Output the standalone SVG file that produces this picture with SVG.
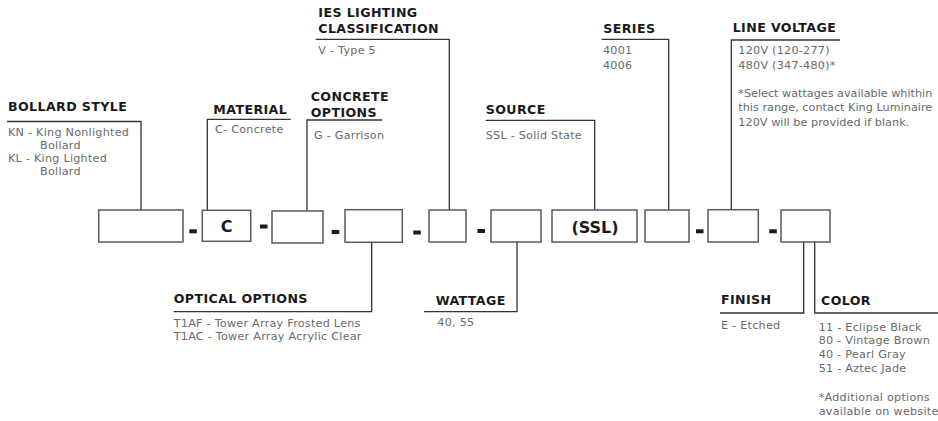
<svg xmlns="http://www.w3.org/2000/svg" width="938" height="421" viewBox="0 0 938 421">
<style>
.t{font-family:"DejaVu Sans","Liberation Sans",sans-serif;font-weight:bold;font-size:12.6px;letter-spacing:0.4px;fill:#1a1a1a}
.b{font-family:"DejaVu Sans","Liberation Sans",sans-serif;font-size:11.2px;letter-spacing:0.25px;fill:#6a6a6a}
.n{letter-spacing:0}
.bx{fill:#fff;stroke:#5a5a5a;stroke-width:1.5}
.bt{font-family:"DejaVu Sans","Liberation Sans",sans-serif;font-weight:bold;font-size:16px;fill:#1a1a1a;text-anchor:middle}
.c{fill:none;stroke:#333;stroke-width:1.3}
.d{fill:#1a1a1a}
</style>
<rect width="938" height="421" fill="#fff"/>
<g id="connectors">
<path class="c" d="M141,210 V121.5 H7"/>
<path class="c" d="M207.3,210.3 V119.3 H290.7"/>
<path class="c" d="M307,211 V120 H382.3"/>
<path class="c" d="M449.3,210 V39.3 H315.7"/>
<path class="c" d="M594.7,210 V120.3 H485.7"/>
<path class="c" d="M668.7,210 V39.3 H601.7"/>
<path class="c" d="M731.3,210 V40 H840"/>
<path class="c" d="M371.7,242 V311.7 H173.7"/>
<path class="c" d="M517,242 V311.7 H424"/>
<path class="c" d="M803.7,242 V313 H720"/>
<path class="c" d="M814.7,242 V313 H938"/>
</g>
<g id="separators">
<rect class="d" x="189.3" y="229.3" width="7.5" height="4"/>
<rect class="d" x="260" y="224.5" width="7.5" height="4"/>
<rect class="d" x="331.7" y="230" width="7.5" height="4"/>
<rect class="d" x="413.3" y="230.5" width="7.5" height="4"/>
<rect class="d" x="477.5" y="229" width="7.5" height="4"/>
<rect class="d" x="696" y="229.3" width="7.5" height="4"/>
<rect class="d" x="769.3" y="229.3" width="7.5" height="4"/>
</g>
<g id="bollard-style">
<rect class="bx" x="98.7" y="210" width="84.3" height="32"/>
<text class="t" x="8" y="111">BOLLARD STYLE</text>
<text class="b" x="8" y="135.5">KN - King Nonlighted</text>
<text class="b" x="40" y="148.5">Bollard</text>
<text class="b" x="8" y="162">KL - King Lighted</text>
<text class="b" x="40" y="175">Bollard</text>
</g>
<g id="material">
<rect class="bx" x="202.3" y="210.3" width="48.4" height="31"/>
<text class="bt" x="226.5" y="231.5">C</text>
<text class="t" x="213.3" y="114">MATERIAL</text>
<text class="b" x="215" y="133.3">C- Concrete</text>
</g>
<g id="concrete-options">
<rect class="bx" x="272" y="211" width="51" height="32"/>
<text class="t" x="310.7" y="100.5">CONCRETE</text>
<text class="t" x="310.7" y="116.5">OPTIONS</text>
<text class="b" x="314" y="139.3">G - Garrison</text>
</g>
<g id="optical-options">
<rect class="bx" x="345" y="209.7" width="57.3" height="32.6"/>
<text class="t" x="173.7" y="302.7">OPTICAL OPTIONS</text>
<text class="b" x="173.7" y="326.7">T1AF - Tower Array Frosted Lens</text>
<text class="b" x="173.7" y="340.2">T1AC - Tower Array Acrylic Clear</text>
</g>
<g id="ies-lighting-classification">
<rect class="bx" x="429" y="210" width="37" height="32"/>
<text class="t" x="318.3" y="17.3">IES LIGHTING</text>
<text class="t" x="318.3" y="33.3">CLASSIFICATION</text>
<text class="b" x="318.3" y="54.3">V - Type 5</text>
</g>
<g id="wattage">
<rect class="bx" x="491" y="210" width="50" height="32"/>
<text class="t" x="435.7" y="305">WATTAGE</text>
<text class="b" x="437.3" y="326">40, 55</text>
</g>
<g id="source">
<rect class="bx" x="552" y="210" width="85" height="32"/>
<text class="bt" x="595" y="233">(SSL)</text>
<text class="t" x="485.7" y="114">SOURCE</text>
<text class="b" x="485.7" y="138.7">SSL - Solid State</text>
</g>
<g id="series">
<rect class="bx" x="645" y="210" width="44" height="32"/>
<text class="t" x="603.3" y="33.3">SERIES</text>
<text class="b" x="603" y="54">4001</text>
<text class="b" x="603" y="69">4006</text>
</g>
<g id="line-voltage">
<rect class="bx" x="708" y="209.7" width="50.3" height="32.3"/>
<text class="t" x="732.7" y="31.7">LINE VOLTAGE</text>
<text class="b" x="738.3" y="54">120V (120-277)</text>
<text class="b" x="738.3" y="69.3">480V (347-480)*</text>
<text class="b n" x="738.3" y="96.7" textLength="194" lengthAdjust="spacingAndGlyphs">*Select wattages available whithin</text>
<text class="b n" x="738.3" y="111" textLength="194" lengthAdjust="spacingAndGlyphs">this range, contact King Luminaire</text>
<text class="b n" x="738.3" y="125.5" textLength="171" lengthAdjust="spacingAndGlyphs">120V will be provided if blank.</text>
</g>
<g id="finish-color-box">
<rect class="bx" x="781" y="210" width="49" height="32"/>
</g>
<g id="finish">
<text class="t" x="721" y="304.3">FINISH</text>
<text class="b" x="721" y="329">E - Etched</text>
</g>
<g id="color">
<text class="t" x="821" y="305">COLOR</text>
<text class="b" x="818.7" y="330.7">11 - Eclipse Black</text>
<text class="b" x="818.7" y="344.3">80 - Vintage Brown</text>
<text class="b" x="818.7" y="358">40 - Pearl Gray</text>
<text class="b" x="818.7" y="371.7">51 - Aztec Jade</text>
<text class="b" x="818.7" y="400.7">*Additional options</text>
<text class="b" x="818.7" y="414.7">available on website</text>
</g>
</svg>
